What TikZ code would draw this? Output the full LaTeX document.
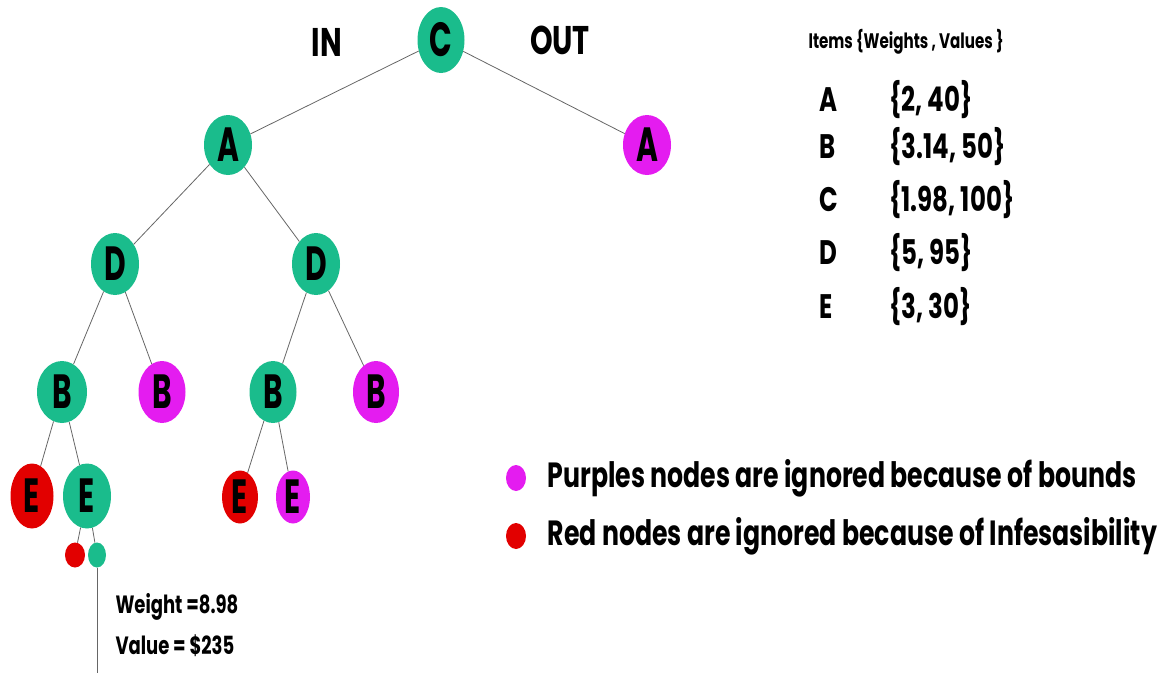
\documentclass[tikz,border=0pt]{standalone}
\usepackage{fontspec}
\setmainfont{Poppins}
\newfontfamily\narrowfont[FakeStretch=0.72]{Poppins}
\newfontfamily\letterfont[FakeStretch=0.62]{Poppins}
\usetikzlibrary{shapes.geometric, positioning}
\definecolor{nodegreen}{RGB}{26,188,140}
\definecolor{nodepurple}{RGB}{228,28,240}
\definecolor{nodered}{RGB}{226,0,0}

\begin{document}
\begin{tikzpicture}[
    x=1pt, y=-1pt,
    treenode/.style={ellipse, inner sep=0pt, minimum width=48pt, minimum height=62pt, font=\letterfont\bfseries\fontsize{48}{48}\selectfont},
    keep/.style={treenode, fill=nodegreen},
    bound/.style={treenode, fill=nodepurple},
    infeas/.style={treenode, fill=nodered},
    dot/.style={ellipse, inner sep=0pt, minimum width=20pt, minimum height=25pt},
    edge/.style={draw=gray!80!black, line width=0.8pt},
    side/.style={font=\narrowfont\bfseries\fontsize{40}{40}\selectfont},
    item/.style={anchor=west, font=\narrowfont\bfseries\fontsize{34}{34}\selectfont},
    legend/.style={anchor=west, font=\narrowfont\bfseries\fontsize{35}{35}\selectfont},
    result/.style={anchor=west, font=\narrowfont\bfseries\fontsize{25}{25}\selectfont}
]
\useasboundingbox (0,0) rectangle (1169,673);

% tree
\node (c)  [keep, minimum width=47pt, minimum height=66pt] at (441,40) {C};
\node (a1) [keep, minimum height=60pt] at (228,145) {A};
\node (a2) [bound, minimum height=60pt] at (647,145) {A};
\node (d1) [keep] at (115,264) {D};
\node (d2) [keep] at (316,264) {D};
\node (b1) [keep, minimum width=50pt] at (62,392) {B};
\node (b2) [bound, minimum width=47pt] at (162,392) {B};
\node (b3) [keep, minimum width=47pt] at (273,392) {B};
\node (b4) [bound, minimum width=46pt] at (376,392) {B};
\node (e1) [infeas, minimum width=43pt, minimum height=65pt] at (32,496) {E};
\node (e2) [keep, minimum height=65pt] at (87,496) {E};
\node (e3) [infeas, minimum width=36pt, minimum height=53pt] at (240,497) {E};
\node (e4) [bound, minimum width=34pt, minimum height=53pt] at (293,497) {E};
\node (s1) [dot, fill=nodered] at (75,555) {};
\node (s2) [dot, fill=nodegreen, minimum width=18pt] at (97,555) {};
\coordinate (leaf) at (97,673);

\draw [edge] (c) -- (a1);
\draw [edge] (c) -- (a2);
\draw [edge] (a1) -- (d1);
\draw [edge] (a1) -- (d2);
\draw [edge] (d1) -- (b1);
\draw [edge] (d1) -- (b2);
\draw [edge] (d2) -- (b3);
\draw [edge] (d2) -- (b4);
\draw [edge] (b1) -- (e1);
\draw [edge] (b1) -- (e2);
\draw [edge] (b3) -- (e3);
\draw [edge] (b3) -- (e4);
\draw [edge] (e2) -- (s1);
\draw [edge] (e2) -- (s2);
\draw [edge] (s2) -- (leaf);

\node (in)  [side] at (327,42) {IN};
\node (out) [side] at (560,40) {OUT};

% items table
\node (head) [anchor=west, font=\narrowfont\bfseries\fontsize{21}{21}\selectfont] at (805,42) {Items \{Weights , Values \}};
\node (ia) [item] at (816,100) {A};
\node (ib) [item] at (816,147) {B};
\node (ic) [item] at (816,200) {C};
\node (id) [item] at (816,253) {D};
\node (ie) [item] at (816,307) {E};
\node (wa) [item] at (886,100) {\{2, 40\}};
\node (wb) [item] at (886,147) {\{3.14, 50\}};
\node (wc) [item] at (886,200) {\{1.98, 100\}};
\node (wd) [item] at (886,253) {\{5, 95\}};
\node (we) [item] at (886,307) {\{3, 30\}};

% legend
\node (lp) [dot, fill=nodepurple, minimum height=26pt] at (516,478) {};
\node (lr) [dot, fill=nodered, minimum height=26pt] at (516,536) {};
\node (tp) [legend, right=18pt of lp] {Purples nodes are ignored because of bounds};
\node (tr) [legend, right=18pt of lr] {Red nodes are ignored because of Infesasibility};

% result
\node (wt)  [result] at (112,607) {Weight =8.98};
\node (val) [result] at (112,646) {Value = \$235};
\end{tikzpicture}
\end{document}
